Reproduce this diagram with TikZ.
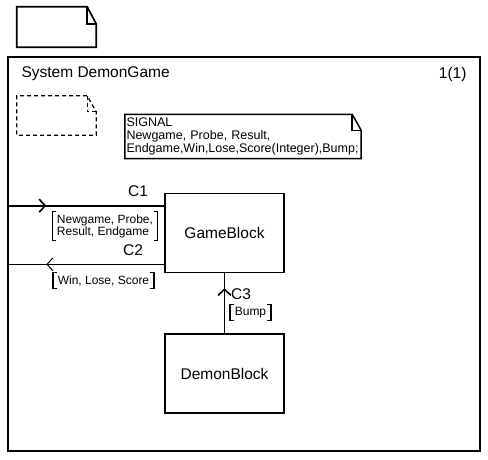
\documentclass[tikz,border=0pt]{standalone}
\usepackage{fontspec}
\setmainfont{Liberation Sans}
\usetikzlibrary{arrows.meta,positioning,decorations.markings}

% dog-ear outline round a node: [style]{node}{fold width}{fold height}
\newcommand{\noteoutline}[4][]{%
  \draw[#1] ([xshift=-#3]#2.north east) -- (#2.north west) -- (#2.south west)
    -- (#2.south east) -- ([yshift=-#4]#2.north east) -- cycle;
  \draw[#1] ([xshift=-#3]#2.north east) |- ([yshift=-#4]#2.north east);}
% signal list brackets round a node
\newcommand{\sigbrackets}[1]{%
  \draw[brk] ([xshift=4pt]#1.north west) -- (#1.north west) -- (#1.south west)
    -- ([xshift=4pt]#1.south west);
  \draw[brk] ([xshift=-4pt]#1.north east) -- (#1.north east) -- (#1.south east)
    -- ([xshift=-4pt]#1.south east);}

\begin{document}
\begin{tikzpicture}[x=1pt,y=-1pt,
  big/.style={font=\fontsize{15.5}{18}\selectfont},
  block/.style={draw,line width=1.6pt,minimum width=119pt,minimum height=79pt,big},
  lbl/.style={big,inner sep=0pt},
  sigs/.style={font=\fontsize{12}{10.5}\selectfont,align=left,inner xsep=4.5pt,inner ysep=2.5pt},
  brk/.style={line width=1.3pt},
  chan/.style={line width=1.6pt},
  tipat/.style={postaction={decorate},decoration={markings,
    mark=at position #1 with {\arrow{Straight Barb[length=6pt,width=13pt]}}}}]
\useasboundingbox (0,0) rectangle (488,459);
% page and diagram frame
\node[minimum width=79pt,minimum height=40pt] (topnote) at (56.5,27) {};
\noteoutline[line width=1.7pt]{topnote}{9pt}{17pt}
\node[draw,line width=2pt,minimum width=472pt,minimum height=394pt] (sys) at (244,254) {};
\node[big,anchor=west] (title) at (18,74) {System DemonGame};
\node[big,anchor=east] (page) at (470,74) {1(1)};
\node[minimum width=79pt,minimum height=39pt] (dashnote) at (56.5,115.5) {};
\noteoutline[line width=1.3pt,dash pattern=on 4pt off 3pt]{dashnote}{9pt}{16pt}
\node[minimum width=236pt,minimum height=41pt,text width=233pt,inner xsep=1.5pt,
      align=left,font=\fontsize{12.5}{13}\selectfont] (sigdecl) at (243,136.5)
  {SIGNAL\\Newgame, Probe, Result,\\Endgame,Win,Lose,Score(Integer),Bump;};
\noteoutline[line width=1.5pt]{sigdecl}{9pt}{16pt}
% blocks
\node[block] (game) at (224.5,233) {GameBlock};
\node[block,below=60pt of game] (demon) {DemonBlock};
% channels
\coordinate (c1end) at ([yshift=-13pt]game.north west);
\coordinate (c2end) at ([yshift=9pt]game.south west);
\draw[chan,tipat=0.25] (c1end -| sys.west) -- (c1end);
\draw[line width=1pt,tipat=0.75] (c2end) -- (c2end -| sys.west);
\draw[chan,tipat=0.75] (demon.north) -- (game.south);
\node[lbl] (c1) at (138,191) {C1};
\node[lbl] (c2) at (133,250) {C2};
\node[lbl,anchor=west] (c3) at (231,294) {C3};
\node[sigs] (sigc1) at (105,226) {Newgame, Probe,\\Result, Endgame};
\node[sigs] (sigc2) at (103.5,280.5) {Win, Lose, Score};
\node[sigs] (sigc3) at (250.5,312.5) {Bump};
\sigbrackets{sigc1}
\sigbrackets{sigc2}
\sigbrackets{sigc3}
\end{tikzpicture}
\end{document}
